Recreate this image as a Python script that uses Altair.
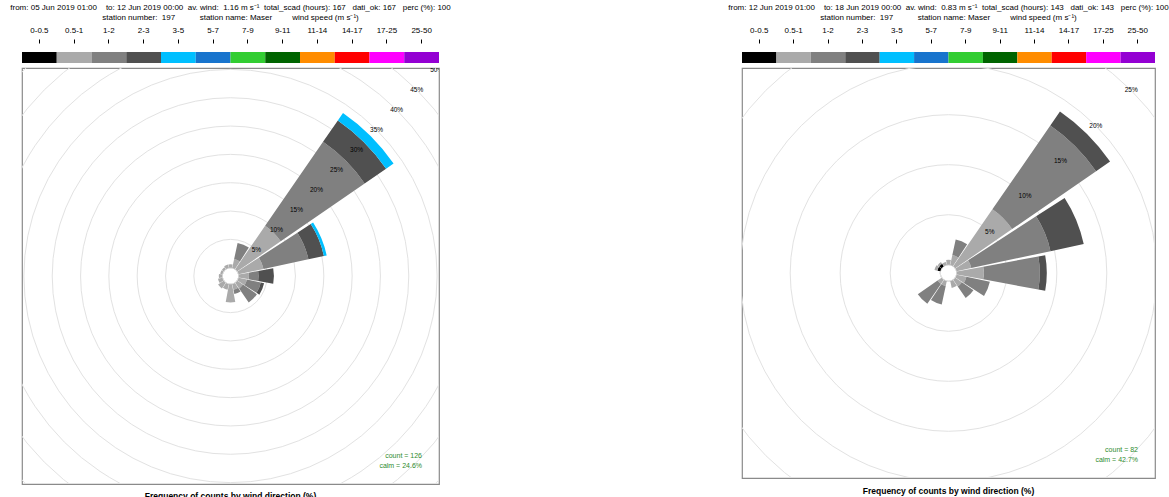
import math
import altair as alt
import pandas as pd

FONT = "Liberation Sans"
BINS = ["0-0.5", "0.5-1", "1-2", "2-3", "3-5", "5-7", "7-9", "9-11", "11-14", "14-17", "17-25", "25-50"]
COLORS = ["#000000", "#AAAAAA", "#808080", "#505050", "#00BFFF", "#1874CD",
          "#32CD32", "#006400", "#FF8C00", "#FF0000", "#FF00FF", "#9400D3"]
DIRS = [0, 22.5, 45, 67.5, 90, 112.5, 135, 157.5, 180, 202.5, 225, 247.5, 270, 292.5, 315, 337.5]

# ---- left panel: % frequency per direction for each speed class (N, NNE, ... NNW)
L_00_05 = [0, 0, 0, 0, 0, 0, 0, 0, 0, 0, 0, 0, 0, 0, 0, 0]
L_05_1 = [0.6, 1.6, 9.3, 4.5, 1.8, 1.5, 1.2, 1.0, 3.2, 1.0, 1.2, 0.8, 0.6, 0.4, 0.4, 0.6]
L_1_2 = [0, 2.9, 18.0, 8.1, 1.7, 2.5, 3.0, 0.8, 0, 0, 0, 0, 0, 0, 0, 0]
L_2_3 = [0, 0, 4.6, 2.8, 2.7, 0.6, 0, 0, 0, 0, 0, 0, 0, 0, 0, 0]
L_3_5 = [0, 0, 1.6, 0.5, 0, 0, 0, 0, 0, 0, 0, 0, 0, 0, 0, 0]
L_RINGS = [5, 10, 15, 20, 25, 30, 35, 40, 45, 50]

# ---- right panel
R_00_05 = [0, 0, 0, 0, 0, 0, 0, 0, 0, 0, 0, 0, 0, 0.3, 0.3, 0]
R_05_1 = [0.5, 1.0, 6.9, 1.5, 2.7, 1.0, 0.8, 0.7, 0, 0.5, 0.5, 0, 0, 0.3, 0.2, 0.3]
R_1_2 = [0, 1.6, 10.2, 8.1, 5.6, 2.4, 1.4, 0, 0, 1.9, 2.4, 0, 0, 0, 0, 0]
R_2_3 = [0, 0, 1.7, 3.4, 0.7, 0, 0, 0, 0, 0, 0, 0, 0, 0, 0, 0]
R_3_5 = [0] * 16
R_RINGS = [5, 10, 15, 20, 25]

S = "\u00a0"
L_HEAD = ["from:" + S + "05" + S + "Jun" + S + "2019" + S + "01:00" + S * 4 + "to:" + S + "12" + S + "Jun" + S + "2019" + S + "00:00" + S * 2
          + "av." + S + "wind:" + S * 2 + "1.16" + S + "m" + S + "s\u207b\u00b9" + S * 2 + "total_scad" + S + "(hours):" + S + "167"
          + S * 3 + "dati_ok:" + S + "167" + S * 3 + "perc" + S + "(%):" + S + "100",
          "station" + S + "number:" + S * 2 + "197" + S * 11 + "station" + S + "name:" + S + "Maser" + S * 9
          + "wind" + S + "speed" + S + "(m" + S + "s\u207b\u00b9)"]
R_HEAD = ["from:" + S + "12" + S + "Jun" + S + "2019" + S + "01:00" + S * 4 + "to:" + S + "18" + S + "Jun" + S + "2019" + S + "00:00" + S * 2
          + "av." + S + "wind:" + S * 2 + "0.83" + S + "m" + S + "s\u207b\u00b9" + S * 2 + "total_scad" + S + "(hours):" + S + "143"
          + S * 3 + "dati_ok:" + S + "143" + S * 3 + "perc" + S + "(%):" + S + "100",
          L_HEAD[1]]

HALF = 10.4  # half angular width of a wedge (deg)


def wedges(arrs):
    rows = []
    for i, d in enumerate(DIRS):
        cum = 0.0
        for b, arr in zip(BINS, arrs):
            v = arr[i]
            if v > 0:
                rows.append({"t0": d - HALF, "t1": d + HALF, "r0": cum, "r1": cum + v, "bin": b})
                cum += v
    return pd.DataFrame(rows)


def panel(arrs, rings, rrange, w, h, head, count, calm, title_off):
    tscale = alt.Scale(domain=[0, 360], range=[0, math.tau])
    rscale = alt.Scale(type="linear", domain=[0, rings[-1]], range=rrange)
    ring_df = pd.DataFrame({"pct": rings, "a0": [0] * len(rings), "a1": [360] * len(rings),
                            "ang": [45] * len(rings), "lab": [f"{p}%" for p in rings]})
    ring_layer = alt.Chart(ring_df).mark_arc(fillOpacity=0, stroke="#e2e2e2", strokeWidth=1, clip=True).encode(
        theta=alt.Theta("a0:Q", scale=tscale), theta2="a1:Q",
        radius=alt.Radius("pct:Q", scale=rscale))
    wedge_layer = alt.Chart(wedges(arrs)).mark_arc(clip=True).encode(
        theta=alt.Theta("t0:Q", scale=tscale), theta2="t1:Q",
        radius=alt.Radius("r0:Q", scale=rscale), radius2="r1:Q",
        color=alt.Color("bin:N", scale=alt.Scale(domain=BINS, range=COLORS), legend=None))
    lab_layer = alt.Chart(ring_df).mark_text(fontSize=6.5, font=FONT, color="black", clip=True).encode(
        theta=alt.Theta("ang:Q", scale=tscale), radius=alt.Radius("pct:Q", scale=rscale), text="lab:N")
    ann_df = pd.DataFrame({"txt": [f"count{S}={S}{count}", f"calm{S}={S}{calm}%"]})
    ann1 = alt.Chart(ann_df.iloc[[0]]).mark_text(fontSize=7, font=FONT, color="#2E8B2E", align="right").encode(
        x=alt.value(w - 17), y=alt.value(h - 28), text="txt:N")
    ann2 = alt.Chart(ann_df.iloc[[1]]).mark_text(fontSize=7, font=FONT, color="#2E8B2E", align="right").encode(
        x=alt.value(w - 17), y=alt.value(h - 18), text="txt:N")
    rose = alt.layer(ring_layer, wedge_layer, lab_layer, ann1, ann2).properties(
        width=w, height=h,
        title=alt.TitleParams("Frequency of counts by wind direction (%)", orient="bottom", anchor="middle",
                              fontSize=8.5, fontWeight="bold", font=FONT, offset=title_off, color="black"),
        view=alt.ViewBackground(stroke="#8a8a8a", strokeWidth=1.2))

    leg = alt.Chart(pd.DataFrame({"bin": BINS})).mark_rect().encode(
        x=alt.X("bin:N", sort=BINS, scale=alt.Scale(paddingInner=0, paddingOuter=0),
                axis=alt.Axis(orient="top", title=None, domain=False, tickSize=4, tickColor="black",
                              labelFontSize=8, labelFont=FONT, labelAngle=0, labelPadding=5, offset=9,
                              labelColor="black")),
        color=alt.Color("bin:N", scale=alt.Scale(domain=BINS, range=COLORS), legend=None)
    ).properties(width=w, height=11,
                 title=alt.TitleParams(head, fontSize=8, font=FONT, fontWeight="normal", anchor="middle",
                                       lineHeight=10, offset=4, color="black"),
                 view=alt.ViewBackground(stroke=None))
    return alt.vconcat(leg, rose, spacing=5, bounds="flush")


left = panel([L_00_05, L_05_1, L_1_2, L_2_3, L_3_5], L_RINGS, [8.3, 291.6], 417, 416, L_HEAD, 126, 24.6, 8)
right = panel([R_00_05, R_05_1, R_1_2, R_2_3, R_3_5], R_RINGS, [8.3, 258.3], 413, 410, R_HEAD, 82, 42.7, 9)

chart = alt.hconcat(left, right, spacing=720, bounds="flush").properties(
    padding={"left": 10, "top": 4, "right": 0, "bottom": 0}
).resolve_scale(theta="independent", radius="independent", color="shared")

chart.save("out.html", embed_options={"renderer": "svg", "actions": False})
